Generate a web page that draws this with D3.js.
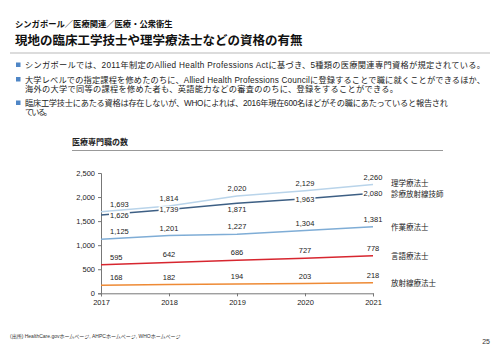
<!DOCTYPE html>
<html>
<head>
<meta charset="utf-8">
<script src="https://cdn.jsdelivr.net/npm/d3@7"></script>
<style>
  body { margin: 0; background: #fff; }
  text { font-family: "Liberation Sans", "Noto Sans CJK JP", sans-serif; }
</style>
</head>
<body>
<div id="container"></div>
<script>
/* CONSTANTS AND GLOBALS */
const width = 500,
  height = 353,
  margin = {top: 173, left: 101, bottom: 60, right: 127};

/* DATA */
const years = [2017, 2018, 2019, 2020, 2021];
const seriesNames = ["理学療法士", "診療放射線技師", "作業療法士", "言語療法士", "放射線療法士"];
const physio = [1693, 1814, 2020, 2129, 2260];
const radiographer = [1626, 1739, 1871, 1963, 2080];
const occupational = [1125, 1201, 1227, 1304, 1381];
const speech = [595, 642, 686, 727, 778];
const radiotherapist = [168, 182, 194, 203, 218];
const yTicks = [0, 500, 1000, 1500, 2000, 2500];

const headerText = "シンガポール／医療関連／医療・公衆衛生";
const titleText = "現地の臨床工学技士や理学療法士などの資格の有無";
const bullets = [
  ["シンガポールでは、2011年制定のAllied Health Professions Actに基づき、5種類の医療関連専門資格が規定されている。"],
  ["大学レベルでの指定課程を修めたのちに、Allied Health Professions Councilに登録することで職に就くことができるほか、",
   "海外の大学で同等の課程を修めた者も、英語能力などの審査ののちに、登録をすることができる。"],
  ["臨床工学技士にあたる資格は存在しないが、WHOによれば、2016年現在600名ほどがその職にあたっていると報告され",
   "ている。"]
];
const chartTitle = "医療専門職の数";
const sourceText = "(出所) HealthCare.govホームページ, AHPCホームページ, WHOホームページ";
const pageNo = "25";

const series = [
  {name: seriesNames[0], values: physio, color: "#b9d4ea", labelY: 183.5},
  {name: seriesNames[1], values: radiographer, color: "#3d5f84", labelY: 194.5, onLine: true},
  {name: seriesNames[2], values: occupational, color: "#7fadd6", labelY: 227.5},
  {name: seriesNames[3], values: speech, color: "#d7262f", labelY: 256.5},
  {name: seriesNames[4], values: radiotherapist, color: "#ee8a35", labelY: 283.5}
];

const svg = d3.select("#container")
  .append("svg")
  .attr("width", width)
  .attr("height", height);

// HEADER
svg.append("text")
  .attr("x", 15).attr("y", 27)
  .attr("font-size", 8.3).attr("font-weight", "bold")
  .attr("fill", "#111")
  .text(headerText);

svg.append("text")
  .attr("x", 15).attr("y", 45)
  .attr("font-size", 12.5).attr("font-weight", "bold")
  .attr("fill", "#111")
  .text(titleText);

svg.append("line")
  .attr("x1", 10).attr("x2", 490)
  .attr("y1", 53).attr("y2", 53)
  .attr("stroke", "#d0d0d0").attr("stroke-width", 1.5);

// BULLETS
const bulletY = [65, 79.5, 103];
const lineWidths = [[460], [460, 373], [423, 27]];
bullets.forEach((lines, i) => {
  svg.append("rect")
    .attr("x", 16).attr("y", bulletY[i] - 2.5)
    .attr("width", 4.5).attr("height", 4.5)
    .attr("fill", "#4f86c6");
  lines.forEach((t, j) => {
    svg.append("text")
      .attr("x", 25).attr("y", bulletY[i] + 3 + j * 9.3)
      .attr("font-size", 8.2)
      .attr("fill", "#222")
      .attr("textLength", lineWidths[i][j])
      .attr("lengthAdjust", "spacing")
      .text(t);
  });
});

// CHART TITLE
svg.append("text")
  .attr("x", 72).attr("y", 145)
  .attr("font-size", 8).attr("font-weight", "bold")
  .attr("fill", "#222")
  .text(chartTitle);

svg.append("line")
  .attr("x1", 72).attr("x2", 443)
  .attr("y1", 150.5).attr("y2", 150.5)
  .attr("stroke", "#999").attr("stroke-width", 1);

// SCALES
const xScale = d3.scalePoint()
  .domain(years)
  .range([margin.left, width - margin.right]);

const yScale = d3.scaleLinear()
  .domain([0, 2500])
  .range([293.3, margin.top]);

// AXES
const yAxis = d3.axisLeft(yScale)
  .tickValues(yTicks)
  .tickSize(3)
  .tickPadding(3)
  .tickFormat(d3.format(","));

const xAxis = d3.axisBottom(xScale)
  .tickSize(3)
  .tickPadding(3)
  .tickFormat(d => d);

svg.append("g")
  .attr("transform", `translate(${margin.left},0)`)
  .call(yAxis)
  .call(g => g.select(".domain").attr("stroke", "#777"))
  .call(g => g.selectAll(".tick line").attr("stroke", "#777"))
  .call(g => g.selectAll(".tick text")
    .attr("font-size", 7.5).attr("fill", "#222")
    .attr("font-family", "Liberation Sans"));

svg.append("g")
  .attr("transform", `translate(0,${yScale(0)})`)
  .call(xAxis)
  .call(g => g.select(".domain").attr("stroke", "#777"))
  .call(g => g.selectAll(".tick line").attr("stroke", "#777"))
  .call(g => g.selectAll(".tick text")
    .attr("font-size", 7.5).attr("fill", "#222")
    .attr("font-family", "Liberation Sans"));

// LINE GENERATOR FUNCTION
const lineGen = d3.line()
  .x((d, i) => xScale(years[i]))
  .y(d => yScale(d));

// DRAW LINES
svg.selectAll(".line")
  .data(series)
  .join("path")
  .attr("class", "line")
  .attr("d", d => lineGen(d.values))
  .attr("stroke", d => d.color)
  .attr("stroke-width", 1.5)
  .attr("fill", "none");

// VALUE LABELS
const fmt = d3.format(",");
series.forEach(s => {
  s.values.forEach((v, i) => {
    const first = i === 0;
    const x = first ? xScale(years[i]) + 9 : xScale(years[i]);
    const y = s.onLine
      ? yScale(v) + 2.7 + (years[i] === 2019 ? 6 : 0)
      : yScale(v) - 5;
    const g = svg.append("g");
    const t = g.append("text")
      .attr("x", x).attr("y", y)
      .attr("text-anchor", first ? "start" : "middle")
      .attr("font-size", 7.5)
      .attr("fill", "#222")
      .text(fmt(v));
    if (s.onLine) {
      const bb = t.node().getBBox();
      g.insert("rect", "text")
        .attr("x", bb.x - 1).attr("y", bb.y + 1)
        .attr("width", bb.width + 2).attr("height", bb.height - 2)
        .attr("fill", "#fff");
    }
  });
  svg.append("text")
    .attr("x", 391).attr("y", s.labelY + 2.8)
    .attr("font-size", 7.5)
    .attr("fill", "#222")
    .text(s.name);
});

// SOURCE AND PAGE
svg.append("text")
  .attr("x", 10).attr("y", 338)
  .attr("font-size", 5)
  .attr("fill", "#333")
  .text(sourceText);

svg.append("text")
  .attr("x", 490).attr("y", 344)
  .attr("text-anchor", "end")
  .attr("font-size", 7)
  .attr("fill", "#333")
  .text(pageNo);
</script>
</body>
</html>
